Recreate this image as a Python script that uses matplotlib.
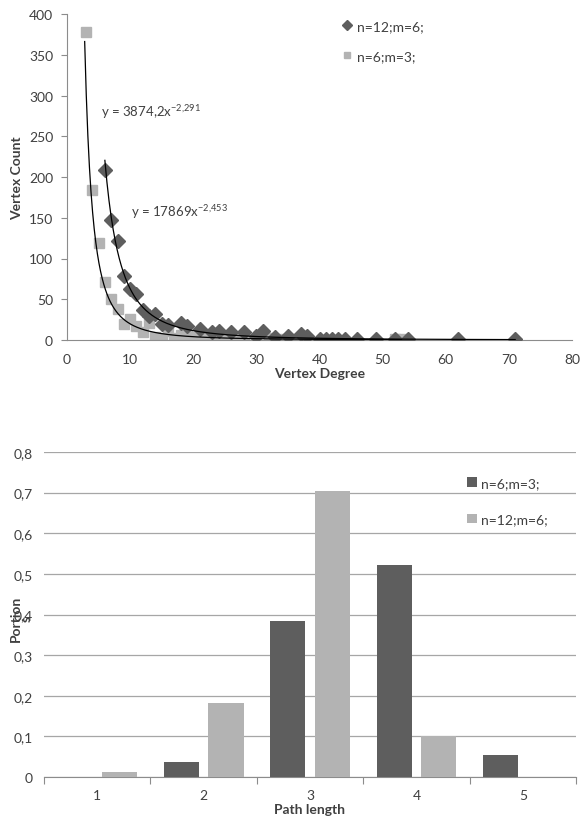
import numpy as np
import matplotlib
matplotlib.use("Agg")
import matplotlib.pyplot as plt

plt.rcParams['font.family'] = ['Lato', 'DejaVu Sans']

# ---- top chart data ----
sq_x = [3, 4, 5, 6, 7, 8, 9, 10, 11, 12, 13, 14, 15, 16, 17, 18, 19, 20, 21, 22, 23, 24, 25, 26, 27, 28, 30, 32, 34, 36, 37, 38, 52, 53]
sq_y = [378, 184, 119, 71, 50, 38, 20, 26, 17, 10, 21, 4, 3, 11, 2, 6, 5, 4, 2, 3, 1, 4, 2, 1, 2, 1, 1, 2, 1, 1, 2, 1, 1, 1]
dm_x = [6, 7, 8, 9, 10, 11, 12, 13, 14, 15, 16, 18, 19, 21, 23, 24, 26, 28, 30, 31, 33, 35, 37, 38, 40, 41, 42, 43, 44, 46, 49, 52, 54, 62, 71]
dm_y = [208, 147, 122, 78, 62, 56, 37, 29, 32, 20, 18, 21, 17, 14, 10, 11, 10, 10, 5, 11, 4, 5, 7, 5, 1, 1, 1, 1, 1, 1, 1, 1, 1, 1, 1]
sq_label = "n=6;m=3;"
dm_label = "n=12;m=6;"
sq_fit = (3874.2, -2.291)
dm_fit = (17869.0, -2.453)
x_ticks_top = [0, 10, 20, 30, 40, 50, 60, 70, 80]
y_ticks_top = [0, 50, 100, 150, 200, 250, 300, 350, 400]

# ---- bottom chart data ----
categories = ["1", "2", "3", "4", "5"]
bar_dark = [0.0, 0.037, 0.385, 0.522, 0.055]
bar_light = [0.013, 0.182, 0.705, 0.100, 0.0]
bar_dark_label = "n=6;m=3;"
bar_light_label = "n=12;m=6;"
y_ticks_bot = [0, 0.1, 0.2, 0.3, 0.4, 0.5, 0.6, 0.7, 0.8]

W, H = 585, 828
fig = plt.figure(figsize=(W / 100, H / 100), dpi=100)

text_col = "#404040"
axis_col = "#8c8c8c"
dark = "#5e5e5e"
light = "#b3b3b3"

# ================= TOP =================
ax = fig.add_axes([67 / W, 1 - 341 / H, (572 - 67) / W, (341 - 15) / H])
ax.plot(dm_x, dm_y, linestyle="none", marker="D", ms=7, color=dark, label=dm_label, zorder=3)
ax.plot(sq_x, sq_y, linestyle="none", marker="s", ms=6.5, color=light, label=sq_label, zorder=2)
xs = np.linspace(min(sq_x) - 0.2, max(sq_x), 400)
ax.plot(xs, sq_fit[0] * xs ** sq_fit[1], color="black", lw=0.9, zorder=4)
xd = np.linspace(min(dm_x), max(dm_x), 400)
ax.plot(xd, dm_fit[0] * xd ** dm_fit[1], color="black", lw=0.9, zorder=4)

ax.set_xlim(0, 80)
ax.set_ylim(0, 400)
ax.set_xticks(x_ticks_top)
ax.set_yticks(y_ticks_top)
ax.tick_params(axis="x", length=0, pad=9, labelsize=10, colors=text_col)
ax.tick_params(axis="y", length=4, width=0.8, color=axis_col, pad=6, labelsize=10, labelcolor=text_col)
for s in ["top", "right"]:
    ax.spines[s].set_visible(False)
for s in ["left", "bottom"]:
    ax.spines[s].set_color(axis_col)
    ax.spines[s].set_linewidth(0.8)
ax.set_xlabel("Vertex Degree", fontsize=10, fontweight="bold", color=text_col, labelpad=2)
ax.set_ylabel("Vertex Count", fontsize=10, fontweight="bold", color=text_col, labelpad=4)

ax.text(5.4, 281, r"y = 3874,2x$^{\mathregular{-2{,}291}}$", fontsize=9.5, color=text_col, va="center")
ax.text(10.1, 158, r"y = 17869x$^{\mathregular{-2{,}453}}$", fontsize=9.5, color=text_col, va="center")

leg = ax.legend(loc="upper left", bbox_to_anchor=(0.525, 1.012), frameon=False, fontsize=10,
                handlelength=0.8, handletextpad=0.3, labelspacing=1.3, markerscale=0.75, borderaxespad=0.3)
for t in leg.get_texts():
    t.set_color(text_col)

# ================= BOTTOM =================
bx = fig.add_axes([44 / W, 1 - 778 / H, (576 - 44) / W, (778 - 453) / H])
pos = np.arange(1, len(categories) + 1)
bw = 0.33
bx.bar(pos - 0.21, bar_dark, width=bw, color=dark, label=bar_dark_label, zorder=3)
bx.bar(pos + 0.21, bar_light, width=bw, color=light, label=bar_light_label, zorder=3)
bx.set_xlim(0.5, len(categories) + 0.5)
bx.set_ylim(0, 0.8)
bx.set_yticks(y_ticks_bot)
bx.set_yticklabels([("%.1f" % v).replace(".", ",") if v != 0 else "0" for v in y_ticks_bot])
bx.set_xticks(pos)
bx.set_xticklabels(categories)
bx.set_xticks(np.arange(0.5, len(categories) + 1), minor=True)
bx.tick_params(axis="x", which="major", length=0, pad=9, labelsize=10, colors=text_col)
bx.tick_params(axis="x", which="minor", length=5, width=0.8, color=axis_col)
bx.tick_params(axis="y", length=0, pad=8, labelsize=10, labelcolor=text_col)
bx.grid(axis="y", color="#a6a6a6", lw=0.9, zorder=0)
for s in ["top", "right", "left"]:
    bx.spines[s].set_visible(False)
bx.spines["bottom"].set_color(axis_col)
bx.spines["bottom"].set_linewidth(0.8)
bx.set_xlabel("Path length", fontsize=10, fontweight="bold", color=text_col, labelpad=1)
bx.set_ylabel("Portion\ns", fontsize=10, fontweight="bold", color=text_col,
              multialignment="center", linespacing=0.9)
bx.yaxis.label.set_verticalalignment("center")
bx.yaxis.set_label_coords(-0.043, 0.49)

leg2 = bx.legend(loc="upper left", bbox_to_anchor=(0.785, 0.94), frameon=False, fontsize=10,
                 handlelength=0.7, handleheight=0.7, handletextpad=0.3, labelspacing=1.75, borderaxespad=0)
for t in leg2.get_texts():
    t.set_color(text_col)

fig.savefig("out.png", dpi=100)
